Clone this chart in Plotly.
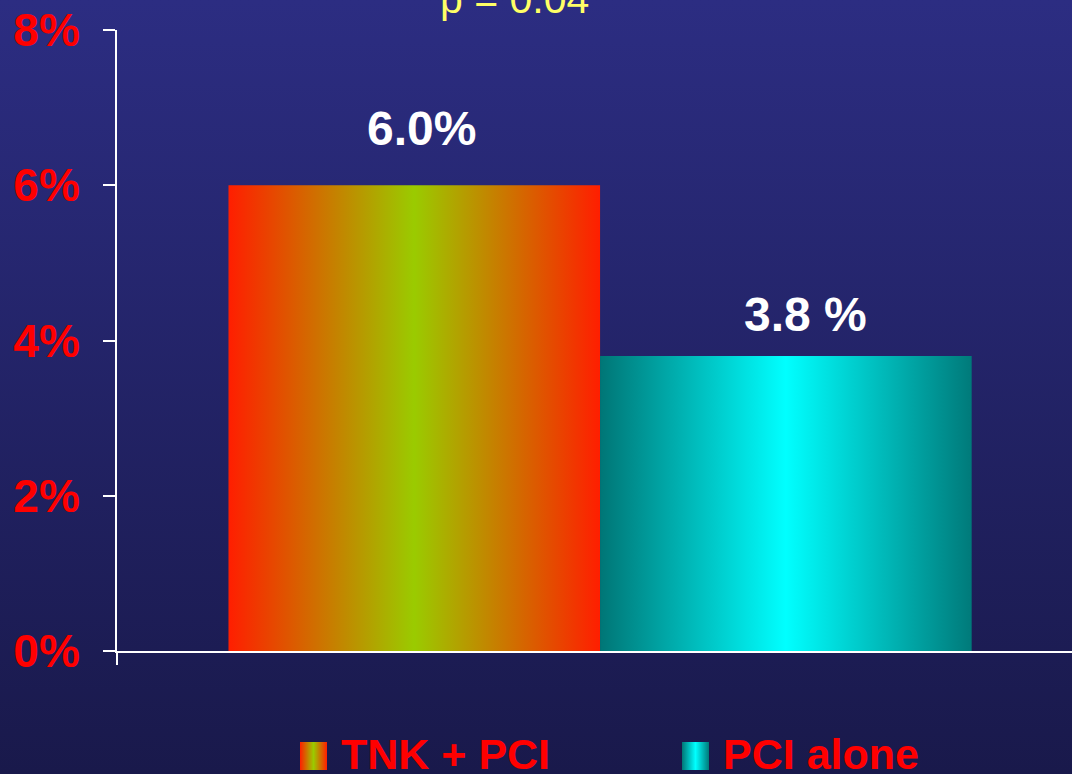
import base64
import plotly.graph_objects as go

# data
groups = ['TNK + PCI', 'PCI alone']
values = [6.0, 3.8]
value_labels = ['6.0%', '3.8 %']
y_ticks = [0, 2, 4, 6, 8]
y_tick_labels = ['0%', '2%', '4%', '6%', '8%']
p_text = 'p = 0.04'

# styles
W, H = 1072, 774
L, R, T, B = 117, 0, 30, 123
pw, ph = W - L - R, H - T - B
bar_scales = [
    [[0, '#ff1e00'], [0.5, '#9acb00'], [1, '#ff1e00']],
    [[0, '#007676'], [0.5, '#00ffff'], [1, '#007a7a']],
]
label_xshift = [7, 20]
label_yshift = [28, 13]
legend_x = [300, 682]      # swatch left edge, px
legend_y = 756             # swatch centre, px
font = 'Liberation Sans, Arial, sans-serif'

fig = go.Figure()

# bars drawn as filled polygons so they can carry a horizontal gradient
for i, (name, v) in enumerate(zip(groups, values)):
    fig.add_trace(go.Scatter(
        x=[i - 0.5, i + 0.5, i + 0.5, i - 0.5, i - 0.5],
        y=[0, 0, v, v, 0],
        mode='lines', fill='toself',
        fillgradient=dict(type='horizontal', colorscale=bar_scales[i]),
        line=dict(width=0), name=name, hoverinfo='skip', showlegend=False,
    ))
    fig.add_annotation(
        x=i, y=v, text=value_labels[i], showarrow=False,
        yanchor='bottom', xshift=label_xshift[i], yshift=label_yshift[i],
        font=dict(family=font, size=48, color='white', weight='bold'),
    )

    # legend: gradient swatch on a pixel-scaled overlay axis + text
    x0 = legend_x[i]
    fig.add_trace(go.Scatter(
        x=[x0, x0 + 27, x0 + 27, x0, x0],
        y=[legend_y - 14, legend_y - 14, legend_y + 14, legend_y + 14, legend_y - 14],
        xaxis='x2', yaxis='y2',
        mode='lines', fill='toself',
        fillgradient=dict(type='horizontal', colorscale=bar_scales[i]),
        line=dict(width=0), hoverinfo='skip', showlegend=False,
    ))
    fig.add_annotation(
        xref='paper', yref='paper', x=(x0 + 39) / W, y=1 - legend_y / H,
        text=name, showarrow=False, xanchor='left', yanchor='middle', yshift=2,
        font=dict(family=font, size=43, color='#ff0000', weight='bold'),
    )

fig.add_annotation(
    xref='paper', yref='paper', x=514 / W, y=1 - T / H,
    text=p_text, showarrow=False, yanchor='bottom', yshift=6,
    font=dict(family=font, size=41, color='#ffff66'),
)

# background gradient
svg = ('<svg xmlns="http://www.w3.org/2000/svg" width="10" height="100" preserveAspectRatio="none">'
       '<defs><linearGradient id="g" x1="0" y1="0" x2="0" y2="1">'
       '<stop offset="0" stop-color="#2c2d82"/><stop offset="1" stop-color="#19194b"/>'
       '</linearGradient></defs><rect width="10" height="100" fill="url(#g)"/></svg>')
fig.add_layout_image(
    source='data:image/svg+xml;base64,' + base64.b64encode(svg.encode()).decode(),
    xref='paper', yref='paper', x=0, y=1, sizex=1, sizey=1, sizing='stretch',
    xanchor='left', yanchor='top', layer='below',
)

# y axis line runs a little below the baseline
fig.add_shape(type='line', xref='x domain', yref='y domain', x0=0, x1=0, y0=0, y1=-14 / ph,
              line=dict(color='white', width=2))

fig.update_layout(
    width=W, height=H,
    margin=dict(l=0, r=0, t=0, b=0, autoexpand=False),
    paper_bgcolor='#222264',
    plot_bgcolor='rgba(0,0,0,0)',
    showlegend=False,
    xaxis=dict(
        domain=[L / W, 1 - R / W], range=[-0.8, 1.77], automargin=False,
        showline=True, linecolor='white', linewidth=2,
        showticklabels=False, showgrid=False, zeroline=False, fixedrange=True,
    ),
    yaxis=dict(
        domain=[B / H, 1 - T / H], range=[0, 8], automargin=False,
        tickvals=y_ticks, ticktext=y_tick_labels,
        ticks='outside', ticklen=12, tickwidth=2, tickcolor='white',
        ticklabelstandoff=14,
        showline=True, linecolor='white', linewidth=2,
        showgrid=False, zeroline=False, fixedrange=True,
        tickfont=dict(family=font, size=46, color='#ff0000', weight='bold'),
    ),
    xaxis2=dict(domain=[0, 1], range=[0, W], anchor='y2', visible=False, fixedrange=True),
    yaxis2=dict(domain=[0, 1], range=[H, 0], anchor='x2', visible=False, fixedrange=True),
)

fig.write_html('out.html', config={'displayModeBar': False},
               post_script="document.body.style.margin='0';")
